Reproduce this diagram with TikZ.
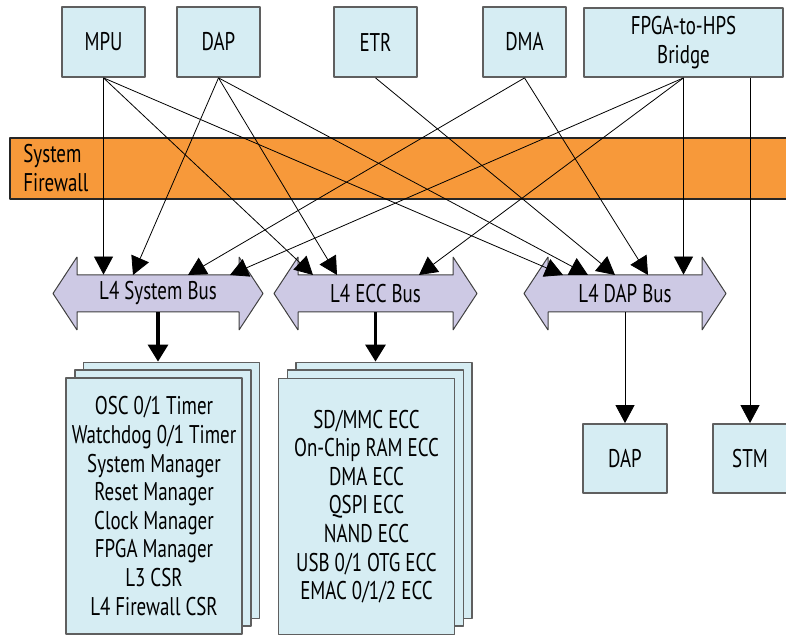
\documentclass[tikz,border=0pt]{standalone}
\usepackage{fontspec}
\setmainfont{PT Sans}[FakeStretch=0.74]
\usetikzlibrary{arrows.meta}
\definecolor{boxfill}{RGB}{214,237,243}
\definecolor{boxline}{RGB}{95,95,95}
\definecolor{fwfill}{RGB}{247,153,58}
\definecolor{busfill}{RGB}{205,201,228}
\tikzset{
  topbox/.style={draw=boxline,line width=0.9pt,fill=boxfill,inner sep=0pt,minimum width=41.5pt,minimum height=35pt,align=center},
  stackbox/.style={draw=boxline,line width=0.9pt,fill=boxfill,inner sep=0pt,minimum width=88pt,minimum height=128pt,align=center},
  fwband/.style={draw=black!85,line width=0.7pt,fill=fwfill,inner sep=0pt,minimum width=390pt,minimum height=30.5pt},
  busbody/.style={inner sep=0pt,minimum height=18.5pt},
  busshape/.style={draw=black!75,line width=0.5pt,fill=busfill},
  thickarrow/.style={black,line width=1.6pt,-{Triangle[length=8.5pt,width=10pt]}},
  pics/busarrow/.style={code={
    \path[busshape] (-#1-24,0) -- (-#1,-36.5) -- (-#1,-18.5) -- (#1,-18.5) -- (#1,-36.5) -- (#1+24,0)
      -- (#1,36.5) -- (#1,18.5) -- (-#1,18.5) -- (-#1,36.5) -- cycle;
  }}
}
\begin{document}
\begin{tikzpicture}[x=0.5pt,y=-0.5pt,>={Triangle[length=9pt,width=9.5pt]},line join=bevel,
  font=\fontsize{12.8}{14.3}\selectfont]
\useasboundingbox (0,0) rectangle (786,635);
%%
\node (node_fw) at (400,168.5) [fwband] {};
\node (node_fwlabel) at (23,168) [anchor=west,inner sep=0pt,align=left] {System\\Firewall};
%
\node (node_mpu) at (103.5,42) [topbox] {MPU};
\node (node_dap) at (218.5,42) [topbox] {DAP};
\node (node_etr) at (375.5,42) [topbox] {ETR};
\node (node_dma) at (524.5,42) [topbox] {DMA};
\node (node_fpga) at (683.5,42.5) [topbox,minimum width=99.5pt,minimum height=34.5pt] {FPGA-to-HPS\\Bridge};
%
\pic at (158,293.5) {busarrow=81};
\pic at (375.5,293.5) {busarrow=77.5};
\pic at (625,293.5) {busarrow=77};
\node (node_sysbus) at (158,293.5) [busbody,minimum width=81pt] {L4 System Bus};
\node (node_eccbus) at (375.5,293.5) [busbody,minimum width=77.5pt] {L4 ECC Bus};
\node (node_dapbus) at (625,293.5) [busbody,minimum width=77pt] {L4 DAP Bus};
%
\coordinate (sys_in_2) at (133,275);
\coordinate (sys_in_3) at (188,275);
\coordinate (sys_in_4) at (230,275);
\coordinate (ecc_in_1) at (313,275);
\coordinate (ecc_in_2) at (337,275);
\coordinate (ecc_in_3) at (419,275);
\coordinate (dap_in_1) at (563,275);
\coordinate (dap_in_2) at (588,275);
\coordinate (dap_in_3) at (615,275);
\coordinate (dap_in_4) at (648,275);
%
\draw [black,->] (node_mpu.south) -- (node_mpu.south |- node_sysbus.north);
\draw [black,->] (node_mpu.south) -- (ecc_in_1);
\draw [black,->] (node_mpu.south) -- (dap_in_1);
\draw [black,->] (node_dap.south) -- (sys_in_2);
\draw [black,->] (node_dap.south) -- (ecc_in_2);
\draw [black,->] (node_dap.south) -- (dap_in_2);
\draw [black,->] (node_etr.south) -- (dap_in_3);
\draw [black,->] (node_dma.south) -- (sys_in_3);
\draw [black,->] (node_dma.south) -- (dap_in_4);
\draw [black,->] (node_fpga.south) -- (sys_in_4);
\draw [black,->] (node_fpga.south) -- (ecc_in_3);
\draw [black,->] (node_fpga.south) -- (node_fpga.south |- node_dapbus.north);
%
\node (node_sysback2) at (171.5,490.5) [stackbox] {};
\node (node_sysback1) at (163,498) [stackbox] {};
\node (node_sysstack) at (154,506) [stackbox] {OSC 0/1 Timer\\Watchdog 0/1 Timer\\System Manager\\Reset Manager\\Clock Manager\\FPGA Manager\\L3 CSR\\L4 Firewall CSR};
\node (node_eccback2) at (384,490.5) [stackbox] {};
\node (node_eccback1) at (375.5,498) [stackbox] {};
\node (node_eccstack) at (366.5,506.5) [stackbox] {SD/MMC ECC\\On-Chip RAM ECC\\DMA ECC\\QSPI ECC\\NAND ECC\\USB 0/1 OTG ECC\\EMAC 0/1/2 ECC};
\node (node_dap2) at (625,458.5) [topbox,minimum width=42pt,minimum height=34.5pt] {DAP};
\node (node_stm) at (750,458.5) [topbox,minimum width=37pt,minimum height=34.5pt] {STM};
%
\draw [thickarrow] (node_sysbus.south) -- (node_sysbus.south |- node_sysback2.north);
\draw [thickarrow] (node_eccbus.south) -- (node_eccbus.south |- node_eccback2.north);
\draw [black,->] (node_dapbus.south) -- (node_dap2.north);
\draw [black,->] (node_fpga.south -| node_stm) -- (node_stm.north);
%
\end{tikzpicture}
\end{document}
